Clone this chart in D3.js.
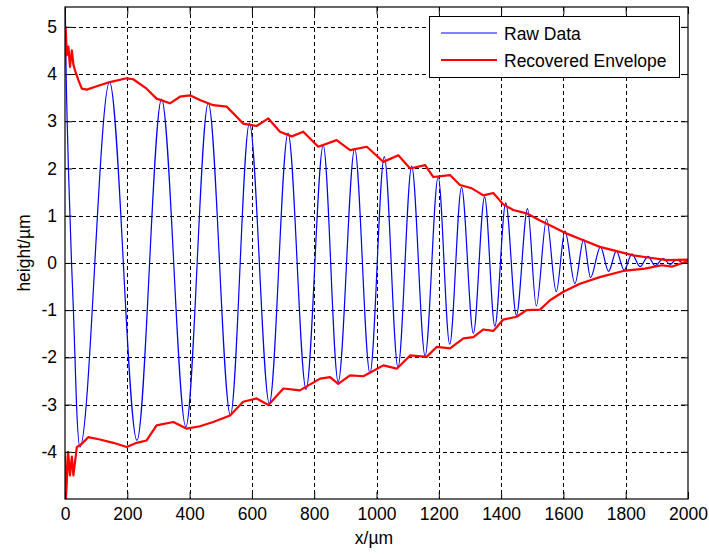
<!DOCTYPE html>
<html>
<head>
<meta charset="utf-8">
<script src="https://cdn.jsdelivr.net/npm/d3@7"></script>
<style>
  html, body { margin: 0; padding: 0; background: #ffffff; }
  svg { display: block; }
  text { font-family: "Liberation Sans", Arial, sans-serif; fill: #000; }
</style>
</head>
<body>
<svg id="chart" width="709" height="554"></svg>
<script>
// ---- data ----
const xTicks = [0, 200, 400, 600, 800, 1000, 1200, 1400, 1600, 1800, 2000];
const yTicks = [-4, -3, -2, -1, 0, 1, 2, 3, 4, 5];

// Raw data: start segment then alternating troughs / peaks
const rawX = [1, 3, 7, 11, 16, 21, 27, 32, 37, 48,
  143, 231, 310, 388, 460, 531, 592, 656, 716, 774, 829, 877, 930, 979,
  1025, 1069, 1113, 1156, 1198, 1235, 1273, 1311, 1347, 1380, 1415, 1449,
  1485, 1513, 1546, 1577, 1605, 1637, 1665, 1687, 1719, 1745, 1770, 1795,
  1820, 1846, 1872, 1894, 1921, 1942, 1963, 1985, 2000];
const rawY = [5.42, 4.3, 3.0, 2.0, 1.0, 0.0, -1.0, -2.0, -3.0, -3.9,
  3.83, -3.76, 3.47, -3.47, 3.39, -3.23, 2.96, -2.98, 2.75, -2.68, 2.49, -2.52, 2.42, -2.34,
  2.25, -2.21, 2.05, -1.97, 1.82, -1.72, 1.60, -1.49, 1.40, -1.34, 1.27, -1.11,
  1.15, -0.91, 0.93, -0.61, 0.68, -0.44, 0.50, -0.31, 0.34, -0.18, 0.25, -0.15,
  0.19, -0.08, 0.14, -0.06, 0.09, -0.03, 0.07, 0.0, 0.05];

// Recovered envelope (upper)
const upperX = [0, 2, 6, 11, 16, 22, 27, 32, 43, 54, 70, 102, 144, 198, 219, 262, 294, 337, 369, 401,
  433, 476, 519, 540, 572, 615, 653, 690, 728, 765, 813, 872, 915, 969, 1022, 1070, 1108,
  1156, 1182, 1236, 1268, 1306, 1343, 1375, 1407, 1439, 1482, 1525, 1568, 1611, 1664,
  1717, 1771, 1824, 1878, 1932, 2000];
const upperY = [4.2, 5.0, 4.4, 4.58, 4.15, 4.5, 4.2, 4.08, 3.87, 3.69, 3.67, 3.74, 3.83, 3.91, 3.89, 3.69, 3.48, 3.38, 3.52, 3.55,
  3.45, 3.34, 3.31, 3.17, 2.95, 2.90, 3.06, 2.78, 2.68, 2.78, 2.46, 2.60, 2.39, 2.46, 2.14, 2.28, 2.00,
  2.07, 1.82, 1.86, 1.65, 1.58, 1.43, 1.48, 1.24, 1.12, 1.05, 0.90, 0.76, 0.62, 0.48,
  0.34, 0.25, 0.16, 0.11, 0.06, 0.07];

// Recovered envelope (lower)
const lowerX = [0, 3, 6, 10, 16, 22, 27, 38, 54, 75, 112, 155, 198, 230, 262, 294, 348, 391, 433, 476,
  530, 562, 572, 615, 653, 701, 754, 819, 851, 877, 915, 958, 1022, 1065, 1108, 1161, 1193,
  1236, 1279, 1311, 1343, 1375, 1407, 1450, 1482, 1525, 1557, 1600, 1653, 1717, 1792,
  1862, 1916, 1948, 2000];
const lowerY = [-4.0, -5.0, -4.6, -4.0, -4.5, -4.1, -4.5, -3.9, -3.83, -3.69, -3.74, -3.81, -3.90, -3.81, -3.76, -3.44, -3.37, -3.51, -3.46, -3.37,
  -3.23, -3.01, -2.94, -2.87, -3.01, -2.66, -2.70, -2.45, -2.42, -2.56, -2.38, -2.40, -2.17, -2.24, -1.96, -1.99, -1.78,
  -1.81, -1.60, -1.57, -1.41, -1.44, -1.20, -1.14, -1.00, -0.99, -0.79, -0.61, -0.44, -0.30, -0.17,
  -0.12, -0.05, -0.08, 0.04];

const legendLabels = ["Raw Data", "Recovered Envelope"];
const seriesColors = ["#0000ff", "#ff0000"];

// ---- layout ----
const svg = d3.select("#chart");
const L = 65, R = 688, T = 7, B = 499;
const x = d3.scaleLinear().domain([0, 2000]).range([L, R]);
const y = d3.scaleLinear().domain([-5, 5.42]).range([B, T]);
const fontSize = 17.5;
const fmt = d => String(d);

// clip
svg.append("defs").append("clipPath").attr("id", "clip")
  .append("rect").attr("x", L).attr("y", T).attr("width", R - L).attr("height", B - T);

// grid
const grid = svg.append("g");
grid.selectAll("line.gx").data(xTicks.slice(1, -1)).join("line")
  .attr("x1", d => Math.round(x(d)) + 0.5).attr("x2", d => Math.round(x(d)) + 0.5)
  .attr("y1", T).attr("y2", B)
  .attr("stroke", "#000").attr("stroke-width", 1).attr("stroke-dasharray", "4,3");
grid.selectAll("line.gy").data(yTicks).join("line")
  .attr("y1", d => Math.round(y(d)) + 0.5).attr("y2", d => Math.round(y(d)) + 0.5)
  .attr("x1", L).attr("x2", R)
  .attr("stroke", "#000").attr("stroke-width", 1).attr("stroke-dasharray", "4,3");

// data lines
const plot = svg.append("g").attr("clip-path", "url(#clip)");
const rawLine = d3.line().x(d => x(d[0])).y(d => y(d[1])).curve(d3.curveMonotoneX);
plot.append("path")
  .datum(d3.zip(rawX, rawY))
  .attr("d", rawLine)
  .attr("fill", "none").attr("stroke", seriesColors[0]).attr("stroke-width", 1.2);

const envLine = d3.line().x(d => x(d[0])).y(d => y(d[1]));
[[upperX, upperY], [lowerX, lowerY]].forEach(([xs, ys]) => {
  plot.append("path")
    .datum(d3.zip(xs, ys))
    .attr("d", envLine)
    .attr("fill", "none").attr("stroke", seriesColors[1]).attr("stroke-width", 2.2)
    .attr("stroke-linejoin", "round");
});

// axes (box with inward ticks on all sides)
const tickLen = 7;
const axB = svg.append("g").attr("transform", `translate(0,${B})`)
  .call(d3.axisBottom(x).tickValues(xTicks).tickFormat(fmt).tickSizeInner(-tickLen).tickSizeOuter(0).tickPadding(9));
const axT = svg.append("g").attr("transform", `translate(0,${T})`)
  .call(d3.axisTop(x).tickValues(xTicks).tickFormat("").tickSizeInner(-tickLen).tickSizeOuter(0));
const axL = svg.append("g").attr("transform", `translate(${L},0)`)
  .call(d3.axisLeft(y).tickValues(yTicks).tickFormat(fmt).tickSizeInner(-tickLen).tickSizeOuter(0).tickPadding(8));
const axR = svg.append("g").attr("transform", `translate(${R},0)`)
  .call(d3.axisRight(y).tickValues(yTicks).tickFormat("").tickSizeInner(-tickLen).tickSizeOuter(0));
[axB, axT, axL, axR].forEach(a => {
  a.select(".domain").remove();
  a.selectAll(".tick line").attr("stroke", "#000").attr("stroke-width", 1);
  a.selectAll("text").attr("font-size", fontSize).attr("font-family", "Liberation Sans, Arial, sans-serif").attr("fill", "#000");
});
svg.append("rect").attr("x", L).attr("y", T).attr("width", R - L).attr("height", B - T)
  .attr("fill", "none").attr("stroke", "#000").attr("stroke-width", 1.2);

// axis labels
svg.append("text").attr("x", 374).attr("y", 544).attr("text-anchor", "middle")
  .attr("font-size", fontSize).text("x/µm");
svg.append("text").attr("transform", "translate(30,253) rotate(-90)").attr("text-anchor", "middle")
  .attr("font-size", fontSize).text("height/µm");

// legend
const lg = svg.append("g");
lg.append("rect").attr("x", 429.5).attr("y", 16.5).attr("width", 250).attr("height", 61)
  .attr("fill", "#fff").attr("stroke", "#000").attr("stroke-width", 1);
legendLabels.forEach((lab, i) => {
  const yy = 33 + i * 27;
  lg.append("line").attr("x1", 441).attr("x2", 497).attr("y1", yy).attr("y2", yy)
    .attr("stroke", seriesColors[i]).attr("stroke-width", i === 0 ? 1.2 : 2.2);
  lg.append("text").attr("x", 504).attr("y", yy + 7).attr("font-size", fontSize).text(lab);
});
</script>
</body>
</html>
